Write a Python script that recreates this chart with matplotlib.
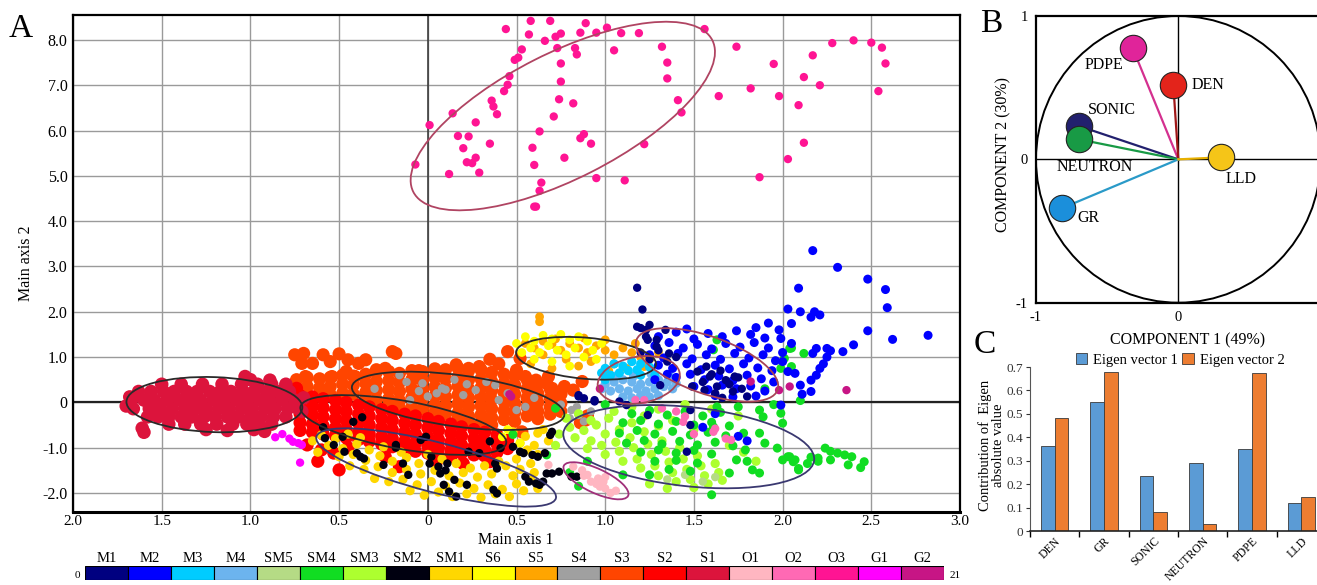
import matplotlib
matplotlib.use('Agg')
import matplotlib.pyplot as plt
from matplotlib.patches import Ellipse, Circle
from matplotlib.transforms import Affine2D

plt.rcParams['font.family'] = ['Liberation Serif', 'DejaVu Serif']

# ---------------- data ----------------
class_names = ['M1', 'M2', 'M3', 'M4', 'SM5', 'SM4', 'SM3', 'SM2', 'SM1', 'S6',
               'S5', 'S4', 'S3', 'S2', 'S1', 'O1', 'O2', 'O3', 'G1', 'G2']
class_colors = ['#000080', '#0000FF', '#00CCFF', '#6CB4EE', '#B5DB85', '#11DD22',
                '#ADFF2F', '#000010', '#FFD700', '#FFFF00', '#FFA500', '#A0A0A0',
                '#FF4500', '#FF0000', '#DC143C', '#FFB6C1', '#FF69B4', '#FF1493',
                '#FF00FF', '#C71585']

x_ticks_A = [-2.0, -1.5, -1.0, -0.5, 0, 0.5, 1.0, 1.5, 2.0, 2.5, 3.0]
x_tick_labels_A = ['2.0', '1.5', '1.0', '0.5', '0', '0.5', '1.0', '1.5', '2.0', '2.5', '3.0']
y_ticks_A = [8, 7, 6, 5, 4, 3, 2, 1, 0, -1, -2]
y_tick_labels_A = ['8.0', '7.0', '6.0', '5.0', '4.0', '3.0', '2.0', '1.0', '0', '-1.0', '-2.0']

# S1 core rows {y: [x...]}
S1_rows = {
    0.40: [-1.50, -1.39, -1.27, -1.16, -1.05, -0.96, -0.88, -0.80],
    0.24: [-1.63, -1.56, -1.49, -1.43, -1.36, -1.30, -1.23, -1.17, -1.11, -1.04, -0.98, -0.91, -0.85, -0.78],
    0.05: [-1.67, -1.60, -1.54, -1.47, -1.40, -1.34, -1.28, -1.21, -1.15, -1.08, -1.02, -0.95, -0.89, -0.82, -0.75],
    -0.14: [-1.66, -1.57, -1.51, -1.44, -1.37, -1.31, -1.25, -1.18, -1.12, -1.05, -0.99, -0.92, -0.86, -0.79, -0.73],
    -0.32: [-1.58, -1.52, -1.46, -1.39, -1.33, -1.26, -1.20, -1.13, -1.07, -1.00, -0.94, -0.87, -0.80],
    -0.48: [-1.46, -1.37, -1.28, -1.19, -1.10, -1.02, -0.95, -0.88],
}
S1_extra = [(-1.61, -0.57), (-1.60, -0.66), (-1.03, 0.57), (-0.89, 0.49), (-1.70, -0.08),
            (-1.25, -0.60), (-1.13, -0.62), (-0.98, -0.60), (-0.92, -0.64), (-0.70, 0.10),
            (-0.71, -0.20), (-1.00, 0.50), (-1.68, 0.12)]

# S2 core columns {x: [y...]}
S2_cols = {
    -0.72: [0.15, -0.05, -0.25, -0.45, -0.62], -0.65: [0.12, -0.08, -0.28, -0.48, -0.66],
    -0.59: [0.08, -0.12, -0.32, -0.52, -0.70], -0.52: [0.04, -0.16, -0.36, -0.56, -0.74],
    -0.46: [0.00, -0.20, -0.40, -0.60, -0.78], -0.39: [-0.06, -0.26, -0.46, -0.66, -0.82],
    -0.33: [-0.10, -0.30, -0.50, -0.70, -0.86], -0.26: [-0.16, -0.36, -0.56, -0.76, -0.92],
    -0.20: [-0.20, -0.40, -0.60, -0.80, -0.98], -0.13: [-0.26, -0.46, -0.66, -0.86, -1.04],
    -0.07: [-0.30, -0.50, -0.70, -0.90, -1.08], 0.00: [-0.36, -0.56, -0.76, -0.96, -1.12],
    0.06: [-0.42, -0.62, -0.82, -1.00, -1.16], 0.13: [-0.48, -0.68, -0.88, -1.06, -1.20],
    0.19: [-0.54, -0.74, -0.94, -1.12], 0.26: [-0.60, -0.80, -0.98, -1.16],
    0.32: [-0.66, -0.86, -1.04, -1.18], 0.39: [-0.72, -0.92, -1.10], 0.45: [-0.84, -1.02],
}
S2_extra = [(-0.68, -0.94), (-0.50, -1.49), (-0.53, -1.12), (-0.24, -1.20), (-0.16, -1.42),
            (0.20, -1.35), (0.35, -1.31), (-0.80, 0.38), (-0.74, 0.31), (-0.60, -1.05),
            (-0.45, -1.00), (-0.85, 0.10), (-0.62, -1.30), (0.05, -1.30)]

# S3 core columns {x: [y...]}
S3_cols = {
    -0.74: [0.50, 0.30], -0.68: [0.55, 0.35, 0.18], -0.61: [0.52, 0.32, 0.15],
    -0.55: [0.55, 0.35, 0.17], -0.48: [0.60, 0.40, 0.20], -0.42: [0.58, 0.38, 0.18],
    -0.35: [0.62, 0.42, 0.22, 0.06], -0.29: [0.66, 0.46, 0.26, 0.06],
    -0.22: [0.68, 0.48, 0.28, 0.08, -0.08], -0.16: [0.64, 0.44, 0.24, 0.04, -0.12],
    -0.09: [0.70, 0.50, 0.30, 0.10, -0.10], -0.03: [0.68, 0.48, 0.28, 0.08, -0.14],
    0.04: [0.74, 0.54, 0.34, 0.14, -0.06, -0.22], 0.10: [0.72, 0.52, 0.32, 0.12, -0.08, -0.26],
    0.17: [0.76, 0.56, 0.36, 0.16, -0.04, -0.24, -0.36], 0.23: [0.70, 0.50, 0.30, 0.10, -0.10, -0.30, -0.44],
    0.30: [0.72, 0.52, 0.32, 0.12, -0.08, -0.28, -0.46], 0.36: [0.66, 0.46, 0.26, 0.06, -0.14, -0.34, -0.50],
    0.43: [0.62, 0.42, 0.22, 0.02, -0.18, -0.38], 0.49: [0.58, 0.38, 0.18, -0.02, -0.22, -0.42],
    0.56: [0.50, 0.30, 0.10, -0.10, -0.30], 0.62: [0.40, 0.20, 0.00, -0.20, -0.36],
    0.69: [0.30, 0.10, -0.10, -0.26], 0.75: [0.18, -0.02, -0.20],
}
S3_extra = [(-0.75, 1.05), (-0.70, 1.08), (-0.59, 1.05), (-0.50, 1.07), (-0.71, 0.86), (-0.65, 0.86),
            (-0.55, 0.90), (-0.45, 0.94), (-0.39, 0.86), (-0.35, 0.94), (-0.29, 0.72), (-0.24, 0.75),
            (-0.18, 1.08), (-0.69, 0.57), (-0.54, 0.57), (-0.46, 0.68), (-0.41, 0.57), (-0.20, 1.12),
            (0.45, 1.12), (0.52, 0.97), (0.16, 0.83), (0.23, 0.75), (0.29, 0.79), (0.50, 0.71),
            (0.55, 0.57), (0.61, 0.49), (0.67, 0.42), (0.70, 0.31), (0.75, 0.20), (0.68, 0.57),
            (0.77, 0.35), (0.82, 0.27), (0.87, 0.46), (0.89, -0.39), (0.90, -0.30), (0.86, -0.45),
            (0.35, 0.95), (0.05, 0.65), (-0.05, 0.70), (0.40, 0.85), (0.53, -0.65)]

S4_pts = [(-0.16, 0.60), (-0.12, 0.45), (-0.10, 0.05), (0.00, 0.13), (-0.03, 0.42), (0.08, 0.31),
          (0.10, 0.28), (0.20, 0.16), (0.27, 0.27), (0.33, 0.45), (0.38, 0.38), (0.40, 0.05),
          (0.45, 0.20), (0.50, -0.17), (0.55, -0.10), (0.81, -0.17), (0.85, -0.28), (0.84, -0.10),
          (0.80, -0.35), (0.75, -0.05), (0.88, -0.42), (0.92, -0.20), (-0.30, 0.30), (-0.05, 0.25),
          (0.15, 0.50), (0.60, 0.10), (0.22, 0.40), (0.05, 0.20)]

S5_pts = [(0.63, 1.89), (0.63, 1.78), (0.55, 1.30), (0.60, 1.20), (0.65, 1.35), (0.70, 1.28),
          (0.75, 1.15), (0.80, 1.30), (0.85, 1.20), (0.90, 1.10), (0.95, 1.25), (1.00, 1.15),
          (1.05, 1.05), (1.10, 1.20), (1.15, 1.10), (1.20, 1.00), (1.25, 0.95), (0.72, 1.40),
          (0.88, 1.42), (1.00, 1.38), (0.65, 1.05), (0.78, 0.95), (0.92, 0.90), (1.05, 0.85),
          (1.12, 0.75), (1.22, 0.79), (0.58, 0.85), (1.17, 1.30), (1.30, 1.10), (0.70, 0.75),
          (0.85, 0.80), (1.27, 0.60), (1.02, 0.70)]

S6_pts = [(0.55, 1.45), (0.60, 1.35), (0.65, 1.48), (0.70, 1.40), (0.75, 1.50), (0.80, 1.38),
          (0.85, 1.45), (0.90, 1.35), (0.58, 1.20), (0.63, 1.10), (0.68, 1.25), (0.73, 1.15),
          (0.78, 1.05), (0.83, 1.20), (0.88, 1.00), (0.93, 1.15), (0.53, 1.10), (0.60, 0.95),
          (0.70, 0.90), (0.80, 0.80), (0.95, 0.95), (0.98, 1.30), (0.50, 1.30), (0.42, -0.76),
          (0.52, -0.90), (0.45, -0.60)]

SM1_pts = [(-0.60, -0.72), (-0.52, -0.80), (-0.45, -0.70), (-0.38, -0.78), (-0.56, -0.95), (-0.48, -1.02),
           (-0.40, -0.92), (-0.33, -1.05), (-0.25, -0.98), (-0.50, -1.20), (-0.42, -1.15), (-0.35, -1.28),
           (-0.27, -1.18), (-0.20, -1.30), (-0.12, -1.22), (-0.05, -1.35), (-0.44, -1.40), (-0.36, -1.48),
           (-0.28, -1.42), (-0.20, -1.55), (-0.12, -1.48), (-0.04, -1.58), (0.04, -1.50), (0.12, -1.62),
           (0.20, -1.55), (0.28, -1.65), (0.36, -1.58), (-0.30, -1.68), (-0.22, -1.75), (-0.14, -1.70),
           (-0.06, -1.82), (0.02, -1.75), (0.10, -1.85), (0.18, -1.78), (0.26, -1.90), (0.34, -1.82),
           (0.42, -1.92), (0.50, -1.80), (0.58, -1.72), (-0.10, -1.95), (-0.02, -2.05), (0.06, -1.98),
           (0.14, -2.08), (0.22, -2.02), (0.30, -2.10), (0.38, -2.02), (0.46, -2.08), (0.54, -1.95),
           (0.62, -1.90), (0.44, -1.40), (0.52, -1.48), (0.60, -1.55), (0.48, -1.62), (0.40, -1.30),
           (0.50, -1.25), (0.58, -1.35), (0.62, -1.15), (0.48, -0.65), (0.55, -0.75), (0.62, -0.68),
           (0.52, -0.90), (0.60, -0.95), (0.68, -0.85), (0.56, -1.05), (0.65, -0.60), (0.08, -1.25),
           (0.16, -1.35), (0.24, -1.45), (-0.15, -1.10), (-0.62, -1.10), (-0.65, -0.85), (0.00, -1.15),
           (0.32, -1.40)]

SM2_pts = [(-0.59, -0.55), (-0.58, -0.79), (-0.53, -0.94), (-0.48, -0.76), (-0.47, -1.09), (-0.42, -0.43),
           (-0.37, -0.33), (-0.40, -1.12), (-0.38, -1.20), (-0.36, -1.24), (-0.25, -1.38), (-0.18, -1.00),
           (-0.18, -0.94), (-0.14, -1.35), (-0.11, -1.60), (-0.04, -0.83), (-0.01, -0.76), (0.01, -1.35),
           (0.02, -1.20), (0.06, -1.42), (0.07, -1.57), (0.10, -1.50), (0.11, -1.35), (0.15, -1.71),
           (0.09, -1.82), (0.12, -1.97), (0.16, -2.08), (0.22, -1.82), (0.23, -1.09), (0.29, -1.12),
           (0.35, -0.86), (0.38, -1.35), (0.39, -1.46), (0.37, -1.93), (0.39, -2.01), (0.41, -1.01),
           (0.48, -0.98), (0.52, -1.09), (0.54, -1.12), (0.59, -1.16), (0.62, -1.20), (0.66, -1.12),
           (0.55, -1.64), (0.57, -1.75), (0.61, -1.79), (0.63, -1.82), (0.65, -1.75), (0.67, -1.57),
           (0.70, -1.57), (0.69, -0.72), (0.70, -0.65), (0.74, -1.53), (0.81, -1.64), (0.84, -1.64)]

SM3_pts = [(0.78, -0.35), (0.85, -0.25), (0.92, -0.40), (0.80, -0.55), (0.88, -0.62), (0.95, -0.50),
           (1.02, -0.35), (0.83, -0.78), (0.92, -0.85), (1.00, -0.70), (1.08, -0.60), (1.15, -0.45),
           (1.22, -0.30), (0.90, -1.02), (0.98, -0.95), (1.06, -0.88), (1.14, -0.78), (1.22, -0.65),
           (1.30, -0.52), (1.38, -0.40), (1.00, -1.15), (1.08, -1.08), (1.16, -1.00), (1.24, -0.92),
           (1.32, -0.85), (1.10, -1.30), (1.18, -1.25), (1.26, -1.15), (1.34, -1.08), (1.42, -1.00),
           (1.20, -1.45), (1.28, -1.40), (1.36, -1.32), (1.44, -1.25), (1.52, -1.18), (1.30, -1.62),
           (1.38, -1.55), (1.46, -1.48), (1.54, -1.40), (1.62, -1.35), (1.40, -1.75), (1.48, -1.70),
           (1.56, -1.62), (1.64, -1.55), (1.50, -1.88), (1.58, -1.80), (1.66, -1.72), (1.05, -0.20),
           (1.15, -0.10), (1.30, -0.15), (1.45, -0.05), (1.60, -0.15), (1.75, -0.30), (1.50, -0.60),
           (1.70, -0.95), (1.78, -1.10), (1.85, -1.30), (0.74, -0.70), (0.72, -0.95), (1.25, -1.80),
           (1.35, -1.90)]

SM4_pts = [(1.15, -0.25), (1.25, -0.18), (1.35, -0.28), (1.45, -0.20), (1.55, -0.30), (1.65, -0.22),
           (1.10, -0.45), (1.20, -0.40), (1.30, -0.48), (1.40, -0.42), (1.50, -0.50), (1.60, -0.44),
           (1.70, -0.52), (1.08, -0.68), (1.18, -0.62), (1.28, -0.70), (1.38, -0.64), (1.48, -0.72),
           (1.58, -0.66), (1.68, -0.74), (1.78, -0.68), (1.12, -0.90), (1.22, -0.84), (1.32, -0.92),
           (1.42, -0.86), (1.52, -0.94), (1.62, -0.88), (1.72, -0.96), (1.20, -1.10), (1.30, -1.05),
           (1.40, -1.12), (1.50, -1.06), (1.60, -1.14), (1.28, -1.30), (1.40, -1.28), (1.52, -1.34),
           (1.36, -1.48), (1.48, -1.52),
           (2.05, 1.20), (2.01, 0.97), (2.05, 0.79), (2.12, 1.08), (2.04, 1.19), (1.99, 0.75),
           (2.10, 0.04), (1.99, -0.24), (2.00, -0.46), (2.24, -1.01), (2.27, -1.08), (2.31, -1.12),
           (2.35, -1.16), (2.39, -1.20), (2.46, -1.31), (2.44, -1.44), (2.37, -1.38), (2.27, -1.27),
           (2.20, -1.23), (2.16, -1.21), (2.14, -1.35), (2.09, -1.46), (2.07, -1.27), (2.04, -1.20),
           (2.00, -1.27), (1.87, -0.17), (1.89, -0.32), (1.87, -0.68), (1.79, -1.05), (1.83, -1.49),
           (1.87, -1.56), (1.97, -1.01), (2.03, -1.20), (2.06, -1.31), (2.09, -1.49), (1.74, -1.27),
           (1.70, -1.56), (1.60, -2.04), (1.61, -0.54), (1.63, -0.10), (1.61, 1.16), (1.63, 1.38),
           (0.72, -0.13), (0.48, -0.71), (0.67, -1.16), (0.80, -1.55), (0.85, -1.85), (1.90, 0.30),
           (1.95, -0.05), (1.75, -0.10), (1.00, -0.05), (0.90, -1.30), (1.10, -1.60), (1.25, -1.60),
           (1.90, -0.90), (1.80, -1.30), (2.20, -1.30)]

SM5_pts = [(1.55, -1.75), (1.45, -1.60), (1.62, -1.65), (1.35, -1.70)]

M1_pts = [(1.18, 2.53), (1.21, 2.05), (1.20, 1.64), (1.23, 1.60), (1.24, 1.38), (1.29, 1.23), (1.30, 1.15),
          (1.18, 1.67), (1.25, 1.71), (1.23, 1.45), (1.29, 1.38), (1.34, 1.60), (1.36, 1.08), (1.31, 0.38),
          (1.57, 0.79), (1.59, 0.57), (1.63, 0.35), (1.68, 0.49), (1.72, 0.24), (1.49, 0.35), (1.55, 0.45),
          (1.60, 0.62), (1.65, 0.70), (1.70, 0.40), (1.75, 0.55), (1.73, 0.57), (1.80, 0.13), (1.56, 0.27),
          (0.85, 0.13), (0.88, 0.09), (0.94, 0.02), (1.08, 0.02), (1.12, -0.06), (1.24, -0.28), (1.48, -0.17),
          (1.48, -0.50), (1.46, -1.09), (0.85, 0.16), (0.94, 0.05), (1.25, 0.95), (1.20, 1.10), (1.35, 0.90),
          (1.40, 1.00), (1.62, 0.20), (1.66, 0.10), (1.77, 0.30), (1.52, 0.68)]

M2_pts = [(1.30, 1.45), (1.40, 1.55), (1.50, 1.40), (1.58, 1.52), (1.66, 1.45), (1.74, 1.58), (1.82, 1.50),
          (1.90, 1.42), (1.28, 1.25), (1.36, 1.32), (1.44, 1.20), (1.52, 1.28), (1.60, 1.18), (1.68, 1.30),
          (1.76, 1.22), (1.84, 1.32), (1.92, 1.20), (1.25, 1.05), (1.33, 0.98), (1.41, 1.08), (1.49, 0.96),
          (1.57, 1.05), (1.65, 0.95), (1.73, 1.08), (1.81, 0.98), (1.89, 1.05), (1.96, 0.92), (1.30, 0.82),
          (1.38, 0.75), (1.46, 0.85), (1.54, 0.72), (1.62, 0.82), (1.70, 0.74), (1.78, 0.85), (1.86, 0.76),
          (1.94, 0.70), (1.40, 0.55), (1.48, 0.62), (1.56, 0.50), (1.64, 0.58), (1.72, 0.48), (1.80, 0.60),
          (1.88, 0.52), (1.95, 0.45), (1.50, 0.35), (1.58, 0.28), (1.66, 0.38), (1.74, 0.30), (1.82, 0.36),
          (1.90, 0.25), (1.62, 0.15), (1.72, 0.12), (1.85, 0.14), (1.46, 1.62), (1.35, 0.62), (1.28, 0.50),
          (2.17, 3.35), (2.31, 2.98), (2.48, 2.72), (2.58, 2.49), (2.59, 2.09), (2.09, 2.52), (2.03, 2.06),
          (2.10, 2.00), (2.16, 1.88), (2.18, 2.00), (2.21, 1.93), (2.05, 1.74), (1.99, 1.41), (2.48, 1.58),
          (2.62, 1.39), (2.82, 1.48), (2.40, 1.27), (2.34, 1.12), (2.27, 1.14), (2.25, 1.19), (2.19, 1.19),
          (2.17, 1.08), (2.25, 1.00), (2.23, 0.85), (2.21, 0.75), (2.19, 0.60), (2.16, 0.49), (2.10, 0.38),
          (2.07, 0.64), (2.03, 0.68), (2.16, 0.24), (2.11, 0.18), (1.99, -0.06), (2.00, 0.90), (2.05, 1.30),
          (2.00, 1.10), (1.98, 1.60), (1.92, 1.75), (1.85, 1.65), (1.62, -0.25), (1.55, -0.55), (1.75, -0.75),
          (1.80, -0.85)]

M3_pts = [(1.00, 0.75), (1.05, 0.85), (1.10, 0.80), (1.15, 0.90), (1.20, 0.85), (1.03, 0.60), (1.08, 0.65),
          (1.13, 0.70), (1.18, 0.72), (1.25, 0.78), (1.00, 0.50), (0.98, 0.65), (1.28, 0.60), (1.20, 0.60)]

M4_pts = [(1.00, 0.40), (1.05, 0.45), (1.10, 0.50), (1.15, 0.45), (1.20, 0.40), (1.25, 0.45), (1.30, 0.50),
          (1.35, 0.45), (1.03, 0.25), (1.08, 0.30), (1.13, 0.25), (1.18, 0.30), (1.23, 0.25), (1.28, 0.30),
          (1.33, 0.35), (1.38, 0.30), (1.10, 0.12), (1.15, 0.10), (1.20, 0.15), (1.25, 0.12), (1.30, 0.15),
          (1.06, 0.58), (1.16, 0.58), (1.26, 0.62), (1.36, 0.60), (0.98, 0.30), (1.40, 0.42)]

O1_pts = [(0.82, -1.42), (0.90, -1.60), (0.96, -1.68), (0.99, -1.75), (0.97, -1.86), (1.00, -1.90),
          (1.03, -2.00), (0.87, -1.50), (0.92, -1.75), (1.00, -1.65), (0.95, -1.80), (1.06, -1.95),
          (0.88, -1.62), (0.68, -1.38)]

O2_pts = [(1.32, -0.13), (1.44, -0.43), (1.45, -0.31), (1.61, -0.65), (1.62, -0.58), (1.68, -0.80),
          (1.71, -0.83), (1.17, 0.05), (1.22, 0.05), (1.50, -0.70), (1.40, -0.20)]

O3_pts = [(0.44, 8.24), (0.58, 8.42), (0.69, 8.42), (0.89, 8.37), (0.57, 8.12), (0.72, 8.07), (0.75, 8.14),
          (0.86, 8.16), (0.95, 8.16), (1.01, 8.27), (1.09, 8.15), (1.19, 8.15), (1.56, 8.24), (1.74, 7.85),
          (0.66, 7.98), (0.53, 7.79), (0.73, 7.82), (0.83, 7.82), (0.84, 7.68), (1.05, 7.77), (1.32, 7.85),
          (1.35, 7.50), (1.35, 7.15), (0.49, 7.56), (0.51, 7.61), (0.75, 7.48), (0.75, 7.08), (0.46, 7.20),
          (0.45, 7.01), (0.43, 6.87), (0.36, 6.66), (0.37, 6.53), (0.39, 6.36), (0.14, 6.38), (0.27, 6.18),
          (0.01, 6.12), (0.74, 6.69), (0.82, 6.60), (0.71, 6.31), (1.41, 6.67), (1.43, 6.40), (1.64, 6.76),
          (0.63, 5.98), (0.17, 5.88), (0.23, 5.87), (0.20, 5.61), (0.35, 5.71), (0.59, 5.62), (0.86, 5.83),
          (0.88, 5.92), (0.92, 5.71), (1.22, 5.70), (-0.07, 5.25), (0.22, 5.30), (0.25, 5.28), (0.27, 5.40),
          (0.29, 5.07), (0.12, 5.04), (0.60, 5.24), (0.77, 5.40), (0.95, 4.95), (1.11, 4.90), (0.64, 4.85),
          (0.63, 4.67), (0.60, 4.32), (0.61, 4.32), (1.95, 7.47), (1.82, 6.93), (1.98, 6.76), (2.12, 7.18),
          (2.17, 7.66), (2.21, 7.00), (2.09, 6.56), (2.12, 5.73), (2.03, 5.37), (1.87, 4.97), (2.28, 7.93),
          (2.40, 7.99), (2.50, 7.94), (2.56, 7.83), (2.58, 7.48), (2.54, 6.87)]

G1_pts = [(-0.86, -0.77), (-0.82, -0.70), (-0.78, -0.80), (-0.76, -0.87), (-0.73, -0.90), (-0.71, -0.94),
          (-0.72, -1.33)]

G2_pts = [(0.46, 0.18), (0.47, 0.13), (0.97, 0.30), (1.82, 0.46), (1.98, 0.27), (2.04, 0.35), (2.36, 0.27)]

# ellipses: (centre x, centre y, semi-major, semi-minor [x-units], angle deg on screen)
ellipses_A = [
    (0.761, 6.32, 0.945, 0.354, 26.9, '#B04462'),
    (-1.203, -0.05, 0.496, 0.155, -2.0, '#2A2A2A'),
    (0.171, 0.033, 0.604, 0.145, -7.6, '#2A2A2A'),
    (-0.138, -0.50, 0.589, 0.136, -10.0, '#2A2A2A'),
    (0.047, -1.437, 0.697, 0.141, -14.4, '#3A3870'),
    (0.892, 0.973, 0.396, 0.116, -5.0, '#2A2A2A'),
    (1.189, 0.494, 0.234, 0.131, 10.0, '#A84456'),
    (1.574, 0.826, 0.422, 0.161, -19.5, '#A84456'),
    (1.471, -0.978, 0.711, 0.223, -6.2, '#3A3870'),
    (0.948, -1.731, 0.200, 0.068, -25.0, '#A0307A'),
]

# Panel B loadings
B_vars = ['PDPE', 'DEN', 'SONIC', 'NEUTRON', 'GR', 'LLD']
B_x = [-0.32, -0.035, -0.70, -0.70, -0.82, 0.30]
B_y = [0.774, 0.519, 0.233, 0.140, -0.342, 0.014]
B_colors = ['#E0249A', '#E3241B', '#22206E', '#189A45', '#1B8FDB', '#F5C518']
B_line_colors = ['#D4308F', '#A01818', '#22206E', '#189A45', '#2A9AC8', '#E8B000']
B_label_pos = [(-0.52, 0.66), (0.09, 0.52), (-0.465, 0.345), (-0.59, -0.05), (-0.63, -0.41), (0.44, -0.135)]

# Panel C
C_vars = ['DEN', 'GR', 'SONIC', 'NEUTRON', 'PDPE', 'LLD']
C_eig1 = [0.363, 0.551, 0.233, 0.290, 0.351, 0.120]
C_eig2 = [0.484, 0.678, 0.080, 0.028, 0.676, 0.143]

# ---------------- figure ----------------
W, H = 1317, 585
fig = plt.figure(figsize=(W / 100, H / 100), dpi=100)


def px_axes(l, t, r, b):
    return fig.add_axes([l / W, 1 - b / H, (r - l) / W, (b - t) / H])


# ---- Panel A ----
axA = px_axes(73, 15, 960, 512)
xlimA, ylimA = (-2.0, 3.0), (-2.42, 8.55)
axA.set_xlim(*xlimA)
axA.set_ylim(*ylimA)
axA.set_xticks(x_ticks_A, x_tick_labels_A)
axA.set_yticks(y_ticks_A, y_tick_labels_A)
axA.tick_params(length=0, labelsize=11.5, pad=4)
axA.tick_params(axis='x', labelsize=11, pad=2)
axA.grid(True, color='#9A9A9A', linewidth=1.0, zorder=0)
axA.set_axisbelow(True)
axA.axhline(0, color='#222222', lw=1.6, zorder=1)
axA.axvline(0, color='#333333', lw=1.1, zorder=1)
for sp in axA.spines.values():
    sp.set_linewidth(1.6)
axA.spines['bottom'].set_linewidth(2.2)
axA.set_ylabel('Main axis 2', fontsize=11.5, labelpad=6)
fig.text(516 / W, 1 - 540 / H, 'Main axis 1', fontsize=11.5, ha='center', va='center')


def rows_to_pts(rows):
    return [(x, y) for y, xs in rows.items() for x in xs]


def cols_to_pts(cols):
    return [(x, y) for x, ys in cols.items() for y in ys]


class_pts = {
    'S3': cols_to_pts(S3_cols) + S3_extra,
    'S4': S4_pts,
    'S2': cols_to_pts(S2_cols) + S2_extra,
    'S1': rows_to_pts(S1_rows) + S1_extra,
    'SM1': SM1_pts,
    'S5': S5_pts,
    'S6': S6_pts,
    'SM3': SM3_pts,
    'SM5': SM5_pts,
    'SM4': SM4_pts,
    'M4': M4_pts,
    'M3': M3_pts,
    'M2': M2_pts,
    'M1': M1_pts,
    'SM2': SM2_pts,
    'O1': O1_pts,
    'O2': O2_pts,
    'G1': G1_pts,
    'G2': G2_pts,
    'O3': O3_pts,
}
marker_size = {'S1': 95, 'S2': 90, 'S3': 90, 'SM1': 44, 'SM3': 44, 'SM4': 42, 'M2': 42,
               'M4': 44, 'M3': 44, 'S5': 40, 'S6': 40}
for name, pts in class_pts.items():
    col = class_colors[class_names.index(name)]
    xs = [p[0] for p in pts]
    ys = [p[1] for p in pts]
    axA.scatter(xs, ys, s=marker_size.get(name, 36), color=col, edgecolors='none', zorder=2)

# screen aspect factor (px per x-unit / px per y-unit)
k = (887 / (xlimA[1] - xlimA[0])) / (497 / (ylimA[1] - ylimA[0]))
for cx, cy, a, b, ang, col in ellipses_A:
    tr = Affine2D().scale(1, k).translate(cx, cy) + axA.transData
    e = Ellipse((0, 0), 2 * a, 2 * b, angle=ang, fill=False, edgecolor=col, lw=1.3,
                transform=tr, zorder=4)
    axA.add_patch(e)

fig.text(21 / W, 1 - 29 / H, 'A', fontsize=24, ha='center', va='center')

# ---- Colour bar ----
axCB = px_axes(85, 566, 944, 580)
axCB.bar(range(len(class_names)), [1] * len(class_names), width=1.0, color=class_colors,
         edgecolor='black', linewidth=0.8, align='center')
axCB.set_xlim(-0.5, len(class_names) - 0.5)
axCB.set_ylim(0, 1)
axCB.axis('off')
for i, nm in enumerate(class_names):
    axCB.text(i, 1.1, nm, ha='center', va='bottom', fontsize=10.5)
axCB.text(-0.62, 0.35, '0', ha='right', va='center', fontsize=8)
axCB.text(19.62, 0.35, '21', ha='left', va='center', fontsize=8)

# ---- Panel B ----
axB = px_axes(1036, 16, 1320.6, 302.7)
axB.set_xlim(-1, 1)
axB.set_ylim(-1, 1)
axB.set_xticks([-1, 0], ['-1', '0'])
axB.set_yticks([-1, 0, 1], ['-1', '0', '1'])
axB.tick_params(length=0, labelsize=10.5, pad=6)
for sp in axB.spines.values():
    sp.set_linewidth(1.6)
axB.axhline(0, color='black', lw=1.0, zorder=1)
axB.axvline(0, color='black', lw=1.0, zorder=1)
axB.add_patch(Circle((0, 0), 1.0, fill=False, edgecolor='black', lw=1.4, zorder=1))
for xv, yv, fc, lc in zip(B_x, B_y, B_colors, B_line_colors):
    axB.plot([0, xv], [0, yv], color=lc, lw=1.6, zorder=2)
for xv, yv, fc in zip(B_x, B_y, B_colors):
    axB.plot([xv], [yv], 'o', ms=19, mfc=fc, mec='#222222', mew=0.8, zorder=3)
for nm, (lx, ly) in zip(B_vars, B_label_pos):
    ha = 'left' if nm == 'DEN' else 'center'
    axB.text(lx, ly, nm, ha=ha, va='center', fontsize=11.5, zorder=4)
fig.text(1188 / W, 1 - 340 / H, 'COMPONENT 1 (49%)', fontsize=11.5, ha='center', va='center')
fig.text(1003 / W, 1 - 155 / H, 'COMPONENT 2 (30%)', fontsize=11.5, ha='center', va='center',
         rotation=90)
fig.text(991 / W, 1 - 24 / H, 'B', fontsize=24, ha='center', va='center')

# ---- Panel C ----
axC = px_axes(1030, 367, 1326, 531)
xi = list(range(len(C_vars)))
bw = 0.28
axC.bar([i - 0.14 for i in xi], C_eig1, width=bw, color='#5B9BD5', edgecolor='#3A3A3A',
        linewidth=0.6, label='Eigen vector 1', zorder=2)
axC.bar([i + 0.14 for i in xi], C_eig2, width=bw, color='#ED7D31', edgecolor='#3A3A3A',
        linewidth=0.6, label='Eigen vector 2', zorder=2)
axC.set_xlim(-0.5, 5.5)
axC.set_ylim(0, 0.7)
axC.set_yticks([0, 0.1, 0.2, 0.3, 0.4, 0.5, 0.6, 0.7],
               ['0', '0.1', '0.2', '0.3', '0.4', '0.5', '0.6', '0.7'])
axC.set_xticks([-0.5, 0.5, 1.5, 2.5, 3.5, 4.5])
axC.set_xticklabels([])
axC.set_xticks(xi, minor=True)
axC.set_xticklabels(C_vars, minor=True, rotation=45, ha='right', rotation_mode='anchor',
                    fontsize=8.5)
axC.tick_params(axis='x', which='major', length=4, width=1, direction='out')
axC.tick_params(axis='x', which='minor', length=0, pad=3)
axC.tick_params(axis='y', length=3, labelsize=9.5, pad=2, colors='#333333')
axC.spines['top'].set_visible(False)
axC.spines['right'].set_visible(False)
axC.spines['left'].set_color('#555555')
axC.spines['bottom'].set_color('#222222')
axC.spines['bottom'].set_linewidth(1.2)
fig.legend(handles=axC.get_legend_handles_labels()[0], labels=['Eigen vector 1', 'Eigen vector 2'],
           loc='center', bbox_to_anchor=(1180 / W, 1 - 360 / H), ncol=2, frameon=False,
           fontsize=10.5, handlelength=0.8, handleheight=0.8, handletextpad=0.4,
           columnspacing=0.3, borderpad=0)
fig.text(992 / W, 1 - 445 / H, 'Contribution of  Eigen\nabsolute value', fontsize=10.5,
         ha='center', va='center', rotation=90, linespacing=1.0)
fig.text(985 / W, 1 - 345 / H, 'C', fontsize=24, ha='center', va='center')

fig.savefig('out.png', dpi=100)
